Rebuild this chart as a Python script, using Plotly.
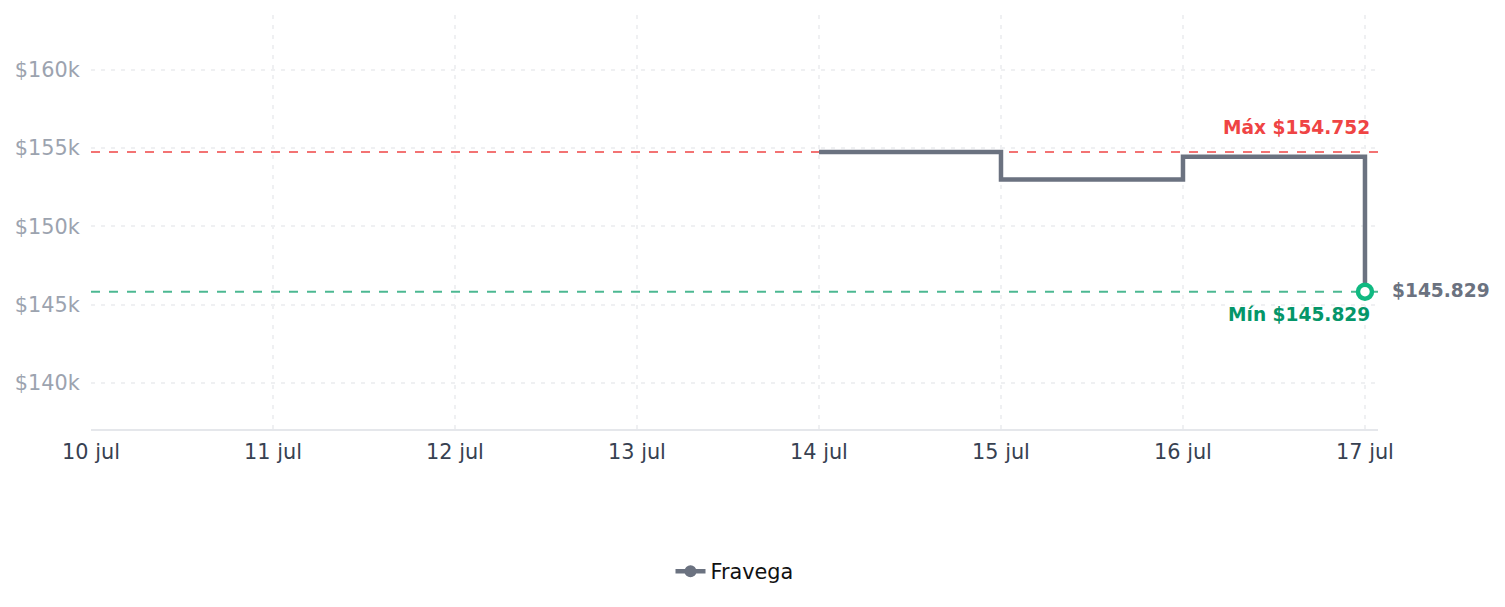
import plotly.graph_objects as go

# ---- data ----
dates = ["2025-07-14", "2025-07-15", "2025-07-16", "2025-07-17"]
prices = [154752, 153000, 154450, 145829]
series_name = "Fravega"

x_tick_vals = ["2025-07-10", "2025-07-11", "2025-07-12", "2025-07-13",
               "2025-07-14", "2025-07-15", "2025-07-16", "2025-07-17"]
x_tick_text = ["10 jul", "11 jul", "12 jul", "13 jul", "14 jul", "15 jul", "16 jul", "17 jul"]
y_tick_vals = [140000, 145000, 150000, 155000, 160000]
y_tick_text = ["$140k", "$145k", "$150k", "$155k", "$160k"]

max_price = 154752
min_price = 145829
max_label = "Máx $154.752"
min_label = "Mín $145.829"
last_label = "$145.829"

x_range = ["2025-07-10", "2025-07-17 01:43"]
y_range = [137060, 163500]

FONT = "DejaVu Sans"
GRAY = "#6b7280"
TICK_SIZE = 20.8
LABEL_SIZE = 18.6

fig = go.Figure()

# max / min reference lines
fig.add_shape(type="line", xref="paper", x0=0, x1=1, yref="y", y0=max_price, y1=max_price,
              line=dict(color="rgba(239,68,68,0.75)", width=2, dash="dash"), layer="below")
fig.add_shape(type="line", xref="paper", x0=0, x1=1, yref="y", y0=min_price, y1=min_price,
              line=dict(color="rgba(16,160,110,0.75)", width=2, dash="dash"), layer="below")

# main step line
fig.add_trace(go.Scatter(
    x=dates, y=prices, mode="lines", line=dict(color=GRAY, width=4.5, shape="hv"),
    showlegend=False, hoverinfo="skip"))

# last point marker
fig.add_trace(go.Scatter(
    x=[dates[-1]], y=[prices[-1]], mode="markers",
    marker=dict(size=14, color="white", line=dict(color="#10b981", width=4.5)),
    showlegend=False, hoverinfo="skip"))

# legend entry
fig.add_trace(go.Scatter(
    x=[None], y=[None], mode="lines+markers", name=series_name,
    line=dict(color=GRAY, width=4.5), marker=dict(color=GRAY, size=12)))

fig.add_annotation(x=dates[-1], y=max_price, text=f"<b>{max_label}</b>", showarrow=False,
                   xanchor="right", yanchor="bottom", xshift=7, yshift=12,
                   font=dict(family=FONT, size=LABEL_SIZE, color="#ef4444"))
fig.add_annotation(x=dates[-1], y=min_price, text=f"<b>{min_label}</b>", showarrow=False,
                   xanchor="right", yanchor="top", xshift=7, yshift=-10,
                   font=dict(family=FONT, size=LABEL_SIZE, color="#059669"))
fig.add_annotation(x=dates[-1], y=prices[-1], text=f"<b>{last_label}</b>", showarrow=False,
                   xanchor="left", yanchor="middle", xshift=25, yshift=1,
                   font=dict(family=FONT, size=LABEL_SIZE, color=GRAY))

grid = dict(showgrid=True, gridcolor="#eff0f2", gridwidth=1.5, griddash="4px,6px", zeroline=False)

fig.update_layout(
    width=1505, height=607,
    margin=dict(l=91, r=127, t=15, b=178),
    paper_bgcolor="white", plot_bgcolor="white",
    font=dict(family=FONT, size=TICK_SIZE, color="#374151"),
    showlegend=True,
    legend=dict(orientation="h", x=0.5, xanchor="center", y=-0.345, yanchor="middle",
                font=dict(family=FONT, size=TICK_SIZE, color="#111111")),
    xaxis=dict(type="date", range=x_range, tickvals=x_tick_vals, ticktext=x_tick_text,
               showline=True, linecolor="#e5e7eb", linewidth=2,
               ticks="outside", ticklen=3, tickcolor="rgba(0,0,0,0)",
               tickfont=dict(family=FONT, size=TICK_SIZE, color="#374151"), **grid),
    yaxis=dict(range=y_range, tickvals=y_tick_vals, ticktext=y_tick_text,
               showline=False, ticks="outside", ticklen=6, tickcolor="rgba(0,0,0,0)",
               tickfont=dict(family=FONT, size=TICK_SIZE, color="#9ca3af"), **grid),
)

fig.write_html("out.html")
